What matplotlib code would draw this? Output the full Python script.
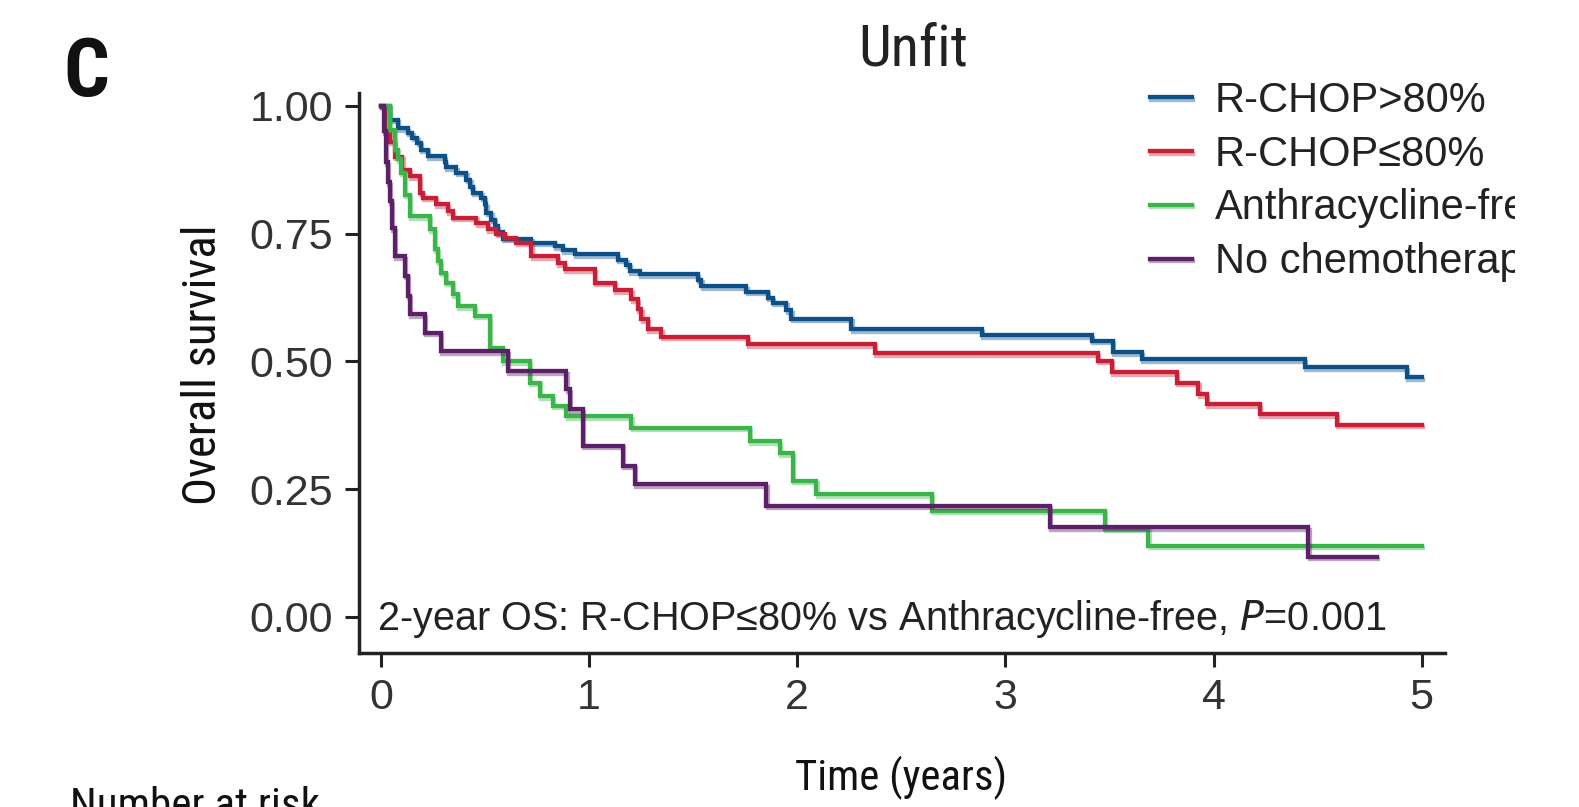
import matplotlib
matplotlib.use("Agg")
import matplotlib.pyplot as plt
import matplotlib.patheffects as pe
from matplotlib import font_manager as fm
from matplotlib.transforms import Bbox

# Kaplan-Meier step data (time in years, survival)
blue_t = [0, 0.041, 0.081, 0.129, 0.151, 0.175, 0.193, 0.225, 0.305, 0.313, 0.362, 0.41, 0.429, 0.441,
          0.482, 0.498, 0.506, 0.53, 0.546, 0.562, 0.586, 0.722, 0.834, 0.874, 0.93, 1.138, 1.179, 1.195,
          1.243, 1.523, 1.539, 1.756, 1.86, 1.884, 1.948, 1.972, 2.26, 2.886, 3.414, 3.518, 3.655, 4.44,
          4.929, 5.0]
blue_s = [1.0, 0.973, 0.956, 0.947, 0.9375, 0.928, 0.914, 0.901, 0.889, 0.88, 0.869, 0.855, 0.842, 0.83,
          0.82, 0.807, 0.791, 0.777, 0.764, 0.753, 0.740, 0.732, 0.725, 0.717, 0.709, 0.699, 0.689, 0.676,
          0.67, 0.66, 0.647, 0.636, 0.624, 0.615, 0.60, 0.583, 0.5625, 0.551, 0.54, 0.518, 0.504, 0.488,
          0.469, 0.469]

red_t = [0, 0.017, 0.041, 0.065, 0.103, 0.137, 0.185, 0.201, 0.265, 0.321, 0.345, 0.458, 0.513, 0.554,
         0.594, 0.65, 0.722, 0.85, 0.882, 1.026, 1.123, 1.203, 1.235, 1.251, 1.283, 1.347, 1.763, 2.373,
         3.446, 3.51, 3.823, 3.927, 3.967, 4.224, 4.592, 5.0]
red_s = [1.0, 0.95, 0.93, 0.90, 0.875, 0.862, 0.83, 0.82, 0.807, 0.794, 0.781, 0.77, 0.758, 0.75,
         0.742, 0.732, 0.706, 0.692, 0.68, 0.654, 0.639, 0.621, 0.602, 0.582, 0.5625, 0.548, 0.533, 0.516,
         0.501, 0.479, 0.458, 0.436, 0.416, 0.396, 0.376, 0.376]

green_t = [0, 0.041, 0.065, 0.081, 0.097, 0.113, 0.137, 0.233, 0.257, 0.273, 0.289, 0.313, 0.345, 0.369,
           0.45, 0.522, 0.586, 0.714, 0.762, 0.826, 0.89, 1.203, 1.772, 1.916, 1.98, 2.092, 2.645, 3.478,
           3.687, 5.0]
green_s = [1.0, 0.953, 0.914, 0.895, 0.869, 0.826, 0.784, 0.758, 0.719, 0.696, 0.673, 0.654, 0.631, 0.608,
           0.589, 0.527, 0.50, 0.458, 0.432, 0.413, 0.393, 0.37, 0.344, 0.32, 0.266, 0.24, 0.208, 0.172,
           0.139, 0.139]

purple_t = [0, 0.012, 0.025, 0.033, 0.041, 0.053, 0.065, 0.113, 0.129, 0.137, 0.209, 0.289, 0.61, 0.89,
            0.906, 0.97, 1.163, 1.219, 1.852, 3.214, 4.456, 4.785]
purple_s = [1.0, 0.95, 0.889, 0.85, 0.813, 0.76, 0.706, 0.667, 0.628, 0.592, 0.556, 0.52, 0.481, 0.445,
            0.406, 0.335, 0.296, 0.26, 0.217, 0.175, 0.118, 0.118]

labels = ["R-CHOP>80%", "R-CHOP\u226480%", "Anthracycline-free", "No chemotherapy"]
colors = ["#0d5088", "#c61f36", "#3bb44a", "#5c2068"]
x_ticks = [0, 1, 2, 3, 4, 5]
y_ticks = [0.0, 0.25, 0.5, 0.75, 1.0]


def narrow_font():
    # the titles use a condensed face; take whatever condensed font is installed
    names = {f.name for f in fm.fontManager.ttflist}
    for name in ["Liberation Sans Narrow", "Roboto Condensed", "Open Sans Condensed", "Arial Narrow"]:
        if name in names:
            return dict(family=[name, "DejaVu Sans"])
    for f in fm.fontManager.ttflist:
        if f.name == "DejaVu Sans" and "ondensed" in str(f.stretch) + f.fname:
            return dict(family=["DejaVu Sans"], fontstretch="condensed")
    return dict(family=["Roboto", "DejaVu Sans"])


narrow = narrow_font()
plt.rcParams["font.family"] = ["Liberation Sans", "DejaVu Sans"]

fig = plt.figure(figsize=(15.79, 8.07), dpi=100)
ax = fig.add_axes([0.2276, 0.1912, 0.6875, 0.6936])

series = [(blue_t, blue_s), (red_t, red_s), (green_t, green_s), (purple_t, purple_s)]
handles = []
for (t, s), lab, c in zip(series, labels, colors):
    ln, = ax.step(t, s, where="post", color=c, lw=3.1, label=lab, solid_joinstyle="miter",
                  path_effects=[pe.SimpleLineShadow(offset=(0.9, -1.8), shadow_color=c, alpha=0.4),
                                pe.Normal()])
    handles.append(ln)

ax.set_xlim(-0.104, 5.112)
ax.set_ylim(-0.07, 1.025)
ax.set_xticks(x_ticks)
ax.set_xticklabels([str(v) for v in x_ticks])
ax.set_yticks(y_ticks)
ax.set_yticklabels([f"{v:.2f}" for v in y_ticks])

for side in ["top", "right"]:
    ax.spines[side].set_visible(False)
for side in ["left", "bottom"]:
    ax.spines[side].set_linewidth(2.5)
    ax.spines[side].set_color("#222222")
ax.tick_params(axis="both", length=10, width=2.2, color="#222222", labelsize=31, labelcolor="#333333")
ax.tick_params(axis="y", pad=9)
ax.tick_params(axis="x", pad=8)

ax.text(-0.02, -0.026, "2-year OS: R-CHOP\u226480% vs Anthracycline-free, $\\it{P}$=0.001",
        fontsize=28.5, color="#222222", va="baseline", ha="left")

leg = ax.legend(handles=handles, loc="upper left", bbox_to_anchor=(1150 / 1579, 1 - 81 / 807),
                bbox_transform=fig.transFigure, frameon=False, fontsize=30, handlelength=1.0,
                handletextpad=0.55, labelspacing=0.33, borderpad=0, borderaxespad=0)
clip = Bbox.from_extents(0, 0, 1515, 807)
for txt in leg.get_texts():
    txt.set_color("#222222")
    txt.set_clip_box(clip)
    txt.set_clip_on(True)

# condensed labels, sized afterwards to the widths seen in the figure
t_title = fig.text(913 / 1579, 1 - 65 / 807, "Unfit", fontsize=44, ha="center", va="baseline",
                   color="#222222", **narrow)
t_panel = fig.text(63 / 1579, 1 - 96 / 807, "C", fontsize=58, weight="bold", ha="left",
                   va="baseline", color="#111111", **narrow)
t_ylab = fig.text(203 / 1579, 1 - 365 / 807, "Overall survival", fontsize=35, rotation=90,
                  ha="center", va="center", color="#111111", **narrow)
t_xlab = fig.text(901 / 1579, 1 - 790 / 807, "Time (years)", fontsize=34, ha="center",
                  va="baseline", color="#111111", **narrow)
t_risk = fig.text(70 / 1579, 1 - 818 / 807, "Number at risk", fontsize=31, ha="left",
                  va="baseline", color="#111111", **narrow)

fig.canvas.draw()
renderer = fig.canvas.get_renderer()
for txt, target, vertical in [(t_title, 110, False), (t_panel, 46, False), (t_ylab, 280, True),
                              (t_xlab, 212, False), (t_risk, 250, False)]:
    bb = txt.get_window_extent(renderer)
    size = bb.height if vertical else bb.width
    txt.set_fontsize(txt.get_fontsize() * target / size)

fig.savefig("out.png", dpi=100)
